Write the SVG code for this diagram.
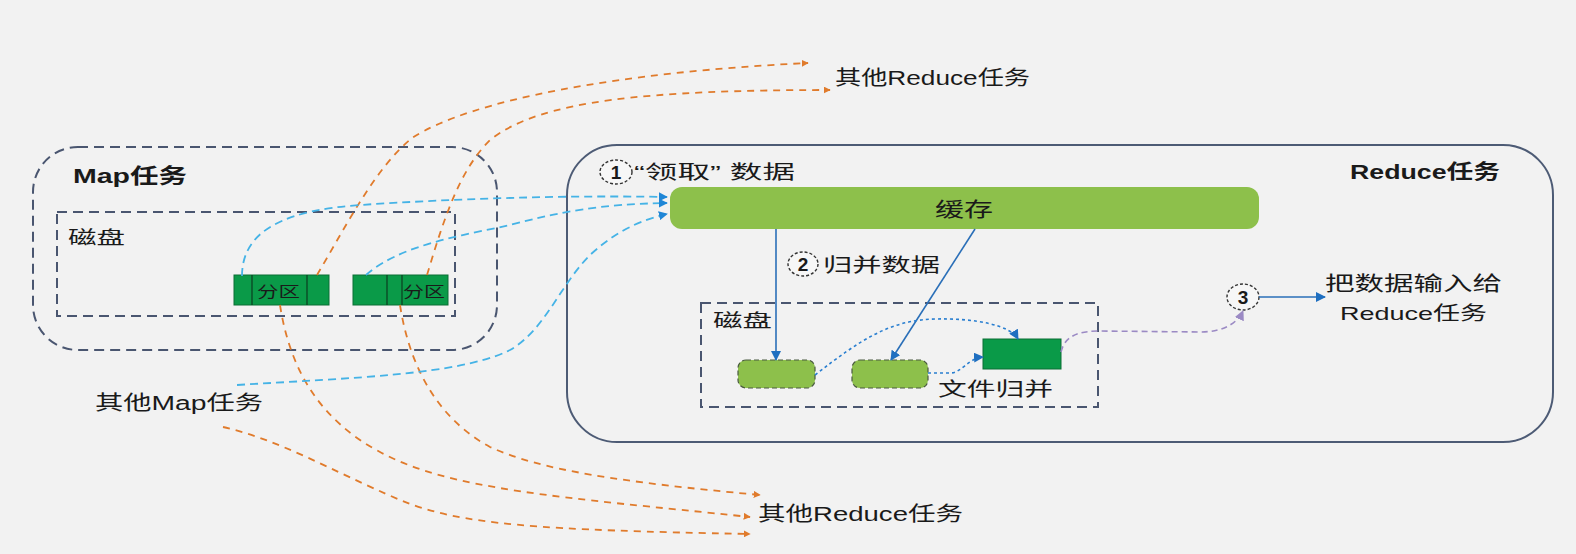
<svg xmlns="http://www.w3.org/2000/svg" width="1576" height="554" viewBox="0 0 1576 554">
<defs>
<style>
.t{font-family:"Liberation Sans","Noto Sans CJK SC",sans-serif;fill:#1a1a1a}
.b{font-weight:bold}
.box{fill:none;stroke:#4a5670;stroke-width:2;stroke-dasharray:10 6}
.orange{fill:none;stroke:#e07b2c;stroke-width:1.8;stroke-dasharray:7 6}
.blue{fill:none;stroke:#45b3e6;stroke-width:1.8;stroke-dasharray:8 5}
.solid{fill:none;stroke:#2a6fb8;stroke-width:1.6}
.dot{fill:none;stroke:#2a7fd0;stroke-width:1.6;stroke-dasharray:3 3}
.circ{fill:#f7f7f7;stroke:#333;stroke-width:1.4;stroke-dasharray:3 2}
.num{font-size:19px;font-weight:bold}
</style>
<marker id="ao" viewBox="0 0 10 10" refX="9" refY="5" markerWidth="7" markerHeight="7" markerUnits="userSpaceOnUse" orient="auto"><path d="M0,0 L10,5 L0,10 z" fill="#e07b2c"/></marker>
<marker id="ab" viewBox="0 0 10 10" refX="9" refY="5" markerWidth="9" markerHeight="9" markerUnits="userSpaceOnUse" orient="auto"><path d="M0,0 L10,5 L0,10 z" fill="#1f86d6"/></marker>
<marker id="ad" viewBox="0 0 10 10" refX="9" refY="5" markerWidth="10" markerHeight="10" markerUnits="userSpaceOnUse" orient="auto"><path d="M0,0 L10,5 L0,10 z" fill="#1f6fc0"/></marker>
<marker id="ap" viewBox="0 0 10 10" refX="9" refY="5" markerWidth="10" markerHeight="10" markerUnits="userSpaceOnUse" orient="auto"><path d="M0,0 L10,5 L0,10 z" fill="#9b8ac4"/></marker>
</defs>
<rect width="1576" height="554" fill="#f2f2f2"/>

<g id="map-task">
<rect x="33" y="147" width="464" height="203" rx="45" class="box"/>
<text class="t b" x="73" y="183" font-size="21" textLength="114" lengthAdjust="spacingAndGlyphs">Map任务</text>
</g>
<g id="map-disk">
<rect x="57" y="212" width="398" height="104" class="box"/>
<text class="t" x="68" y="244" font-size="18" textLength="57" lengthAdjust="spacingAndGlyphs">磁盘</text>
</g>
<g id="partition-1">
<rect x="234" y="275" width="95" height="30" fill="#0a9a48" stroke="#0b6e35" stroke-width="1"/>
<line x1="252" y1="275" x2="252" y2="305" stroke="#0b3d20" stroke-width="1.2"/>
<line x1="307" y1="275" x2="307" y2="305" stroke="#0b3d20" stroke-width="1.2"/>
<text class="t" x="257" y="297" font-size="15" textLength="43" lengthAdjust="spacingAndGlyphs">分区</text>
</g>
<g id="partition-2">
<rect x="353" y="275" width="95" height="30" fill="#0a9a48" stroke="#0b6e35" stroke-width="1"/>
<line x1="387" y1="275" x2="387" y2="305" stroke="#0b3d20" stroke-width="1.2"/>
<line x1="402" y1="275" x2="402" y2="305" stroke="#0b3d20" stroke-width="1.2"/>
<text class="t" x="403" y="297" font-size="15" textLength="42" lengthAdjust="spacingAndGlyphs">分区</text>
</g>
<g id="other-map">
<text class="t" x="95" y="410" font-size="20" textLength="168" lengthAdjust="spacingAndGlyphs">其他Map任务</text>
</g>
<g id="other-reduce-top">
<text class="t" x="835" y="85" font-size="20" textLength="195" lengthAdjust="spacingAndGlyphs">其他Reduce任务</text>
</g>
<g id="other-reduce-bottom">
<text class="t" x="758" y="521" font-size="20" textLength="205" lengthAdjust="spacingAndGlyphs">其他Reduce任务</text>
</g>

<g id="reduce-task">
<rect x="567" y="145" width="986" height="297" rx="50" fill="none" stroke="#4d5b75" stroke-width="2"/>
<text class="t b" x="1350" y="179" font-size="20" textLength="150" lengthAdjust="spacingAndGlyphs">Reduce任务</text>
<ellipse cx="616" cy="172" rx="16" ry="12" class="circ"/>
<text class="t num" x="616" y="179" text-anchor="middle">1</text>
<text class="t" x="634" y="179" font-size="19" textLength="161" lengthAdjust="spacingAndGlyphs">“领取” 数据</text>
<ellipse cx="803" cy="264" rx="15" ry="12" class="circ"/>
<text class="t num" x="803" y="271" text-anchor="middle">2</text>
<text class="t" x="823" y="272" font-size="19" textLength="117" lengthAdjust="spacingAndGlyphs">归并数据</text>
</g>
<g id="cache">
<rect x="670" y="187" width="589" height="42" rx="12" fill="#8dc04b"/>
<text class="t" x="935" y="217" font-size="20" textLength="58" lengthAdjust="spacingAndGlyphs">缓存</text>
</g>
<g id="reduce-disk">
<rect x="701" y="303" width="397" height="104" class="box"/>
<text class="t" x="713" y="327" font-size="18" textLength="59" lengthAdjust="spacingAndGlyphs">磁盘</text>
<text class="t" x="938" y="396" font-size="19" textLength="115" lengthAdjust="spacingAndGlyphs">文件归并</text>
</g>
<g id="file-1"><rect x="738" y="360" width="77" height="28" rx="8" fill="#8dc04b" stroke="#4a5a40" stroke-width="1.2" stroke-dasharray="5 3"/></g>
<g id="file-2"><rect x="852" y="360" width="76" height="28" rx="8" fill="#8dc04b" stroke="#4a5a40" stroke-width="1.2" stroke-dasharray="5 3"/></g>
<g id="merged-file"><rect x="983" y="339" width="78" height="30" fill="#0a9a48" stroke="#0b6e35" stroke-width="1"/></g>
<g id="step-3">
<ellipse cx="1243" cy="297" rx="16" ry="13" class="circ"/>
<text class="t num" x="1243" y="304" text-anchor="middle">3</text>
</g>
<g id="output-label">
<text class="t" x="1325" y="291" font-size="20" textLength="177" lengthAdjust="spacingAndGlyphs">把数据输入给</text>
<text class="t" x="1340" y="320" font-size="19" textLength="147" lengthAdjust="spacingAndGlyphs">Reduce任务</text>
</g>

<g id="connectors">
<path class="orange" marker-end="url(#ao)" d="M317,275 C345,228 375,168 412,138 C470,100 620,72 808,63"/>
<path class="orange" marker-end="url(#ao)" d="M427,275 C445,215 460,170 490,140 C540,100 650,90 830,90"/>
<path class="orange" marker-end="url(#ao)" d="M280,305 C290,370 320,420 380,452 C450,490 560,497 750,517"/>
<path class="orange" marker-end="url(#ao)" d="M400,305 C410,370 440,420 490,447 C540,470 620,482 760,495"/>
<path class="orange" marker-end="url(#ao)" d="M223,427 C280,440 330,470 400,500 C460,525 540,530 750,534"/>
<path class="blue" marker-end="url(#ab)" d="M242,276 C242,228 290,210 360,205 C450,199 560,195 667,197"/>
<path class="blue" marker-end="url(#ab)" d="M366,275 C400,245 460,236 510,225 C560,212 600,204 667,203"/>
<path class="blue" marker-end="url(#ab)" d="M237,385 C350,378 460,375 510,350 C545,330 560,285 590,255 C615,232 640,220 667,214"/>
<path class="solid" marker-end="url(#ad)" d="M776,229 L776,360"/>
<path class="solid" marker-end="url(#ad)" d="M975,229 L891,360"/>
<path class="dot" marker-end="url(#ad)" d="M815,375 C860,340 890,320 935,319 C975,318 1010,325 1018,339"/>
<path class="dot" marker-end="url(#ad)" d="M928,373 L950,373 C962,373 968,358 983,357"/>
<path fill="none" stroke="#9b8ac4" stroke-width="1.6" stroke-dasharray="6 4" marker-end="url(#ap)" d="M1061,352 C1065,335 1080,331 1100,331 L1200,332 C1225,332 1238,322 1243,311"/>
<path class="solid" stroke-width="2" marker-end="url(#ad)" d="M1259,297 L1325,297"/>
</g>
</svg>
